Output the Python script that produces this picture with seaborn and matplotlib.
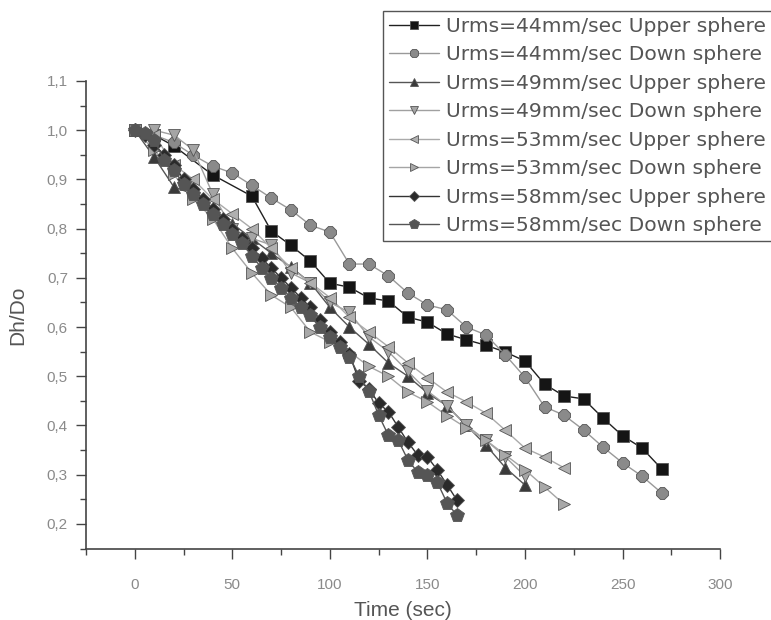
import numpy as np
import pandas as pd
import matplotlib
matplotlib.use("Agg")
import matplotlib.pyplot as plt
from matplotlib.ticker import MultipleLocator, FuncFormatter
import seaborn as sns

# Sphere diameter ratio Dh/Do against time for four turbulence levels
t10_44 = [0, 10, 20, 40, 60, 70, 80, 90, 100, 110, 120, 130, 140, 150, 160,
          170, 180, 190, 200, 210, 220, 230, 240, 250, 260, 270]
up_44 = [1.00, 0.99, 0.968, 0.909, 0.866, 0.795, 0.766, 0.734, 0.689, 0.681,
         0.659, 0.653, 0.620, 0.610, 0.586, 0.574, 0.563, 0.549, 0.531, 0.484,
         0.460, 0.454, 0.415, 0.379, 0.354, 0.312]

t_down_44 = [0, 10, 20, 30, 40, 50, 60, 70, 80, 90, 100, 110, 120, 130, 140,
             150, 160, 170, 180, 190, 200, 210, 220, 230, 240, 250, 260, 270]
down_44 = [1.00, 0.99, 0.975, 0.949, 0.927, 0.913, 0.888, 0.862, 0.838, 0.807,
           0.793, 0.728, 0.728, 0.704, 0.669, 0.645, 0.635, 0.600, 0.584, 0.543,
           0.498, 0.438, 0.421, 0.391, 0.356, 0.324, 0.297, 0.263]

t_49 = [0, 10, 20, 30, 40, 50, 60, 70, 80, 90, 100, 110, 120, 130, 140, 150,
        160, 170, 180, 190, 200]
up_49 = [1.00, 0.945, 0.885, 0.870, 0.840, 0.810, 0.780, 0.750, 0.722, 0.690,
         0.640, 0.600, 0.565, 0.527, 0.500, 0.466, 0.440, 0.400, 0.360, 0.314,
         0.279]
down_49 = [1.00, 1.00, 0.99, 0.96, 0.87, 0.80, 0.78, 0.767, 0.71, 0.69, 0.65,
           0.63, 0.58, 0.55, 0.51, 0.47, 0.44, 0.40, 0.37, 0.336, 0.297]

t_53 = [0, 10, 20, 30, 40, 50, 60, 70, 80, 90, 100, 110, 120, 130, 140, 150,
        160, 170, 180, 190, 200, 210, 220]
up_53 = [1.00, 0.99, 0.93, 0.90, 0.86, 0.83, 0.80, 0.76, 0.72, 0.69, 0.66,
         0.62, 0.59, 0.56, 0.527, 0.497, 0.468, 0.448, 0.425, 0.390, 0.354,
         0.336, 0.314]
down_53 = [1.00, 0.96, 0.91, 0.86, 0.82, 0.76, 0.71, 0.665, 0.64, 0.59, 0.57,
           0.55, 0.52, 0.50, 0.468, 0.448, 0.42, 0.395, 0.37, 0.34, 0.31,
           0.275, 0.24]

t_58 = [0, 5, 10, 15, 20, 25, 30, 35, 40, 45, 50, 55, 60, 65, 70, 75, 80, 85,
        90, 95, 100, 105, 110, 115, 120, 125, 130, 135, 140, 145, 150, 155,
        160, 165]
up_58 = [1.00, 0.99, 0.97, 0.95, 0.93, 0.90, 0.88, 0.86, 0.84, 0.82, 0.80,
         0.78, 0.76, 0.74, 0.72, 0.70, 0.68, 0.66, 0.64, 0.615, 0.59, 0.57,
         0.545, 0.49, 0.475, 0.445, 0.428, 0.397, 0.366, 0.34, 0.336, 0.31,
         0.28, 0.249]
down_58 = [1.00, 0.995, 0.98, 0.94, 0.92, 0.89, 0.87, 0.85, 0.83, 0.81, 0.79,
           0.77, 0.745, 0.72, 0.70, 0.68, 0.66, 0.64, 0.625, 0.60, 0.58, 0.56,
           0.54, 0.50, 0.47, 0.421, 0.38, 0.37, 0.33, 0.305, 0.30, 0.285,
           0.243, 0.218]

labels = [
    "Urms=44mm/sec Upper sphere", "Urms=44mm/sec Down sphere",
    "Urms=49mm/sec Upper sphere", "Urms=49mm/sec Down sphere",
    "Urms=53mm/sec Upper sphere", "Urms=53mm/sec Down sphere",
    "Urms=58mm/sec Upper sphere", "Urms=58mm/sec Down sphere",
]
times = [t10_44, t_down_44, t_49, t_49, t_53, t_53, t_58, t_58]
ratios = [up_44, down_44, up_49, down_49, up_53, down_53, up_58, down_58]

frames = [pd.DataFrame({"Time": t, "Dh/Do": r, "series": lab})
          for t, r, lab in zip(times, ratios, labels)]
df = pd.concat(frames, ignore_index=True)

styles = {
    labels[0]: dict(marker="s", color="#151515", lc="#202020", ms=8),
    labels[1]: dict(marker="8", color="#8a8a8a", lc="#999999", ms=9),
    labels[2]: dict(marker="^", color="#3a3a3a", lc="#555555", ms=9),
    labels[3]: dict(marker="v", color="#a5a5a5", lc="#a0a0a0", ms=9),
    labels[4]: dict(marker="<", color="#b0b0b0", lc="#aaaaaa", ms=9),
    labels[5]: dict(marker=">", color="#a8a8a8", lc="#a5a5a5", ms=9),
    labels[6]: dict(marker="D", color="#2a2a2a", lc="#333333", ms=7),
    labels[7]: dict(marker="p", color="#555555", lc="#555555", ms=10),
}

sns.set_theme(style="white")
plt.rcParams["font.family"] = ["Liberation Sans", "DejaVu Sans"]

fig = plt.figure(figsize=(7.71, 6.2), dpi=100)
ax = fig.add_axes([0.1115, 0.1145, 0.8225, 0.7549])

for lab in labels:
    st = styles[lab]
    sub = df[df["series"] == lab]
    sns.lineplot(data=sub, x="Time", y="Dh/Do", ax=ax, sort=False,
                 estimator=None, color=st["lc"], linewidth=1.0,
                 marker=st["marker"], markersize=st["ms"],
                 markerfacecolor=st["color"], markeredgecolor="#555555",
                 markeredgewidth=0.6, label=lab)

ax.set_xlim(-25, 300)
ax.set_ylim(0.149, 1.1)
ax.xaxis.set_major_locator(MultipleLocator(50))
ax.xaxis.set_minor_locator(MultipleLocator(25))
ax.yaxis.set_major_locator(MultipleLocator(0.1))
ax.yaxis.set_minor_locator(MultipleLocator(0.05))
ax.yaxis.set_major_formatter(FuncFormatter(lambda v, p: f"{v:.1f}".replace(".", ",")))
ax.xaxis.set_major_formatter(FuncFormatter(lambda v, p: f"{v:.0f}"))

for side in ("top", "right"):
    ax.spines[side].set_visible(False)
for side in ("left", "bottom"):
    ax.spines[side].set_color("#444444")
    ax.spines[side].set_linewidth(1.2)

ax.tick_params(which="major", direction="out", length=7, width=1.0,
               color="#444444", labelsize=11, labelcolor="#8a8a8a",
               left=True, bottom=True)
ax.tick_params(axis="x", which="major", pad=14)
ax.tick_params(axis="y", which="major", pad=6)
ax.tick_params(which="minor", direction="out", length=4, width=1.0,
               color="#444444", left=True, bottom=True)

ax.set_xlabel("Time (sec)", fontsize=15, color="#555555", labelpad=6)
ax.set_ylabel("Dh/Do", fontsize=15, color="#555555", labelpad=14)

leg = ax.legend(loc="upper left", bbox_to_anchor=(0.497, 0.983),
                bbox_transform=fig.transFigure, borderaxespad=0,
                prop={"family": ["DejaVu Sans"], "size": 14.6},
                frameon=True, fancybox=False,
                edgecolor="#555555", framealpha=1, handlelength=2.45,
                handletextpad=0.35, labelspacing=0.47, borderpad=0.3,
                markerscale=0.7)
leg.get_frame().set_linewidth(1.0)
for txt in leg.get_texts():
    txt.set_color("#555555")

fig.savefig("out.png", dpi=100, facecolor="white")
